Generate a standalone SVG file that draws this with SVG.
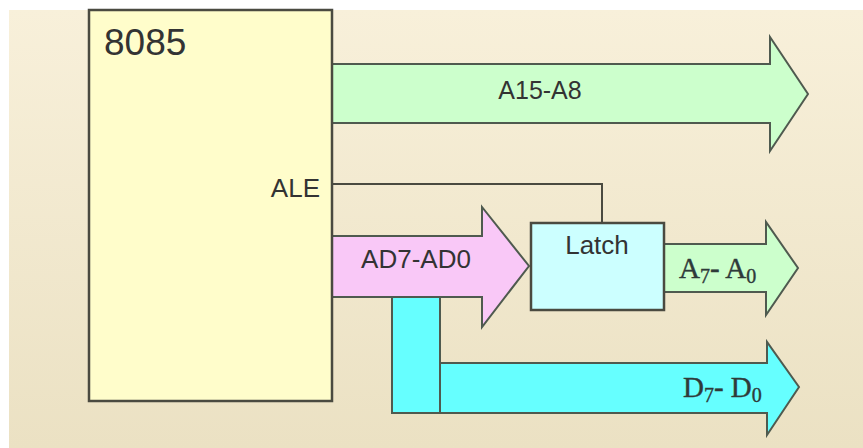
<svg xmlns="http://www.w3.org/2000/svg" width="863" height="448" viewBox="0 0 863 448">
<defs>
<linearGradient id="bg" x1="0" y1="0" x2="0" y2="1">
<stop offset="0" stop-color="#F8F0DA"/>
<stop offset="1" stop-color="#EBE1C3"/>
</linearGradient>
<style>
.lbl{font-family:"Liberation Sans",Arial,sans-serif;fill:#333333}
.ser{font-family:"Liberation Serif","Times New Roman",serif;fill:#2f3a3a;stroke:#2f3a3a;stroke-width:0.4}
.blk{stroke:#4a4a40;stroke-width:2.5}
.arr{stroke:#4f5a4f;stroke-width:2;stroke-linejoin:miter}
</style>
</defs>
<rect x="0" y="0" width="863" height="448" fill="#ffffff"/>
<rect x="9" y="10" width="854" height="438" fill="url(#bg)"/>

<g id="connectors">
<polyline points="332,184 602,184 602,223" fill="none" stroke="#4a4a40" stroke-width="2"/>
<polygon id="bus-a15-a8" class="arr" points="332,64 770,64 770,37 808,94 770,151 770,123 332,123" fill="#CCFFCC"/>
<text class="lbl" x="540" y="99" font-size="25" text-anchor="middle">A15-A8</text>
<rect id="bus-d-bar" class="arr" x="392" y="297" width="48" height="116" fill="#66FFFF"/>
<polygon id="bus-d7-d0" class="arr" points="440,363 767,363 767,342 799,387 767,435 767,413 440,413" fill="#66FFFF"/>
<text class="ser" x="683" y="397" font-size="29">D<tspan font-size="20" dy="5">7</tspan><tspan dy="-5">- D</tspan><tspan font-size="20" dy="5">0</tspan></text>
<polygon id="bus-ad7-ad0" class="arr" points="332,236 482,236 482,207 529,266 482,327 482,297 332,297" fill="#F9C8F7"/>
<text class="lbl" x="416" y="268" font-size="26" text-anchor="middle">AD7-AD0</text>
<polygon id="bus-a7-a0" class="arr" points="664,244 766,244 766,222 798,268 766,315 766,292 664,292" fill="#CCFFCC"/>
<text class="ser" x="679" y="278" font-size="29">A<tspan font-size="20" dy="5">7</tspan><tspan dy="-5">- A</tspan><tspan font-size="20" dy="5">0</tspan></text>
</g>

<g id="cpu-8085">
<rect class="blk" x="89" y="10" width="243" height="391" fill="#FFFDCB"/>
<text class="lbl" x="104" y="55" font-size="37">8085</text>
<text class="lbl" x="320" y="197" font-size="26" text-anchor="end">ALE</text>
</g>

<g id="latch">
<rect class="blk" x="531" y="223" width="133" height="87" fill="#CCFFFF"/>
<text class="lbl" x="597" y="254" font-size="26" text-anchor="middle">Latch</text>
</g>
</svg>
